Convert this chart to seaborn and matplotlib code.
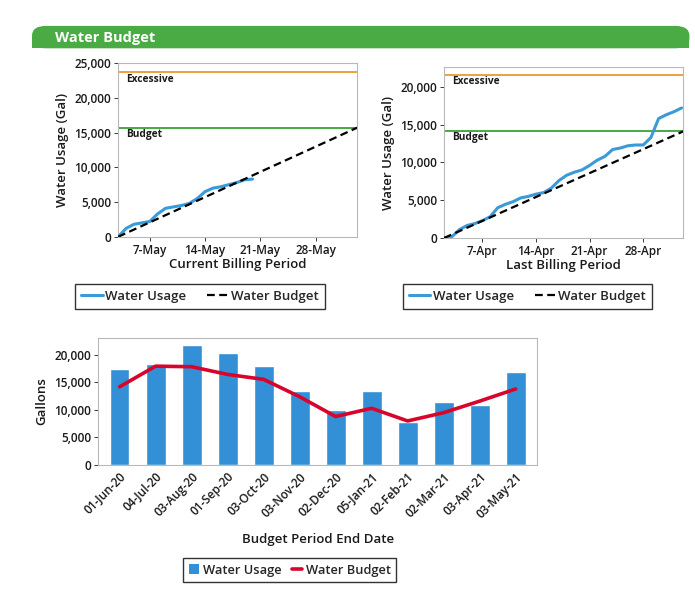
import matplotlib as mpl

mpl.use("Agg")

import matplotlib.pyplot as plt
import matplotlib.dates as mdates
from matplotlib.patches import FancyBboxPatch
from matplotlib.lines import Line2D
from matplotlib.patches import Patch
import seaborn as sns
import numpy as np
import pandas as pd

sns.set_theme(style="white")
plt.rcParams["font.family"] = ["Open Sans", "DejaVu Sans"]

# current billing period (daily cumulative usage)
cur_dates = pd.date_range("2021-05-03", "2021-05-20", freq="D")
cur_usage = [0, 1200, 1800, 2000, 2200, 3300, 4100, 4300, 4500, 4800,
             5500, 6500, 7000, 7200, 7500, 7800, 8200, 8300]
cur_budget_dates = pd.to_datetime(["2021-05-03 00:00", "2021-06-02 06:00"])
cur_budget = [0, 15700]
cur_budget_level = 15700
cur_excessive_level = 23700

# last billing period
last_dates = pd.date_range("2021-04-02", "2021-05-03", freq="D")
last_usage = [0, 150, 1100, 1650, 1900, 2300, 2800, 4000, 4450, 4800,
              5300, 5500, 5800, 6000, 6600, 7600, 8300, 8700, 9000, 9600,
              10300, 10800, 11700, 11900, 12200, 12300, 12300, 13300, 15800,
              16300, 16700, 17200]
last_budget_dates = pd.to_datetime(["2021-04-02 00:00", "2021-05-03 05:00"])
last_budget = [0, 14100]
last_budget_level = 14200
last_excessive_level = 21600

# budget periods
periods = ["01-Jun-20", "04-Jul-20", "03-Aug-20", "01-Sep-20", "03-Oct-20",
           "03-Nov-20", "02-Dec-20", "05-Jan-21", "02-Feb-21", "02-Mar-21",
           "03-Apr-21", "03-May-21"]
period_usage = [17300, 18250, 21700, 20350, 18000, 13350, 10000, 13450,
                7700, 11450, 10850, 16750]
period_budget = [14150, 17900, 17800, 16400, 15500, 12350, 8750, 10250,
                 7950, 9450, 11550, 13750]

BLUE = "#3b9ad8"
BAR = "#3490d6"
RED = "#d9042b"
ORANGE = "#eda13a"
GREEN = "#47a845"
HEADER = "#4aaa44"
FRAME = "#b8b8b8"
TXT = "#1a1a1a"
W = 600  # semibold where available

fig = plt.figure(figsize=(6.95, 5.89), dpi=100)
fig.patch.set_facecolor("white")

# green header bar, rounded top corners
hdr = FancyBboxPatch((0.046, 0.918), 0.946, 0.038,
                     boxstyle="round,pad=0,rounding_size=0.02",
                     transform=fig.transFigure, facecolor=HEADER,
                     edgecolor="none", mutation_aspect=0.85)
fig.patches.append(hdr)
fig.add_artist(plt.Rectangle((0.046, 0.918), 0.946, 0.015,
                             transform=fig.transFigure,
                             facecolor=HEADER, edgecolor="none"))
fig.text(0.079, 0.936, "Water Budget", color="white", fontsize=10.5,
         fontweight="bold", va="center", ha="left")


def style_axes(ax):
    for s in ax.spines.values():
        s.set_color(FRAME)
        s.set_linewidth(0.8)
    ax.tick_params(axis="both", labelsize=8.5, colors=TXT, length=3,
                   width=0.6, direction="out", left=True, bottom=True, pad=2)
    for lab in ax.get_xticklabels() + ax.get_yticklabels():
        lab.set_fontweight(W)
    ax.yaxis.set_major_formatter(mpl.ticker.StrMethodFormatter("{x:,.0f}"))


def period_chart(rect, dates, usage, bdates, budget, blevel, elevel,
                 xlim, ylim, yticks, xlabel, legend_x):
    ax = fig.add_axes(rect)
    sns.lineplot(x=dates, y=usage, ax=ax, color=BLUE, linewidth=2.2, zorder=3)
    sns.lineplot(x=bdates, y=budget, ax=ax, color="black", linewidth=1.6,
                 linestyle=(0, (3.5, 2)), zorder=4)
    ax.axhline(elevel, color=ORANGE, linewidth=1.4, zorder=2)
    ax.axhline(blevel, color=GREEN, linewidth=1.4, zorder=2)
    ax.set_xlim(pd.Timestamp(xlim[0]), pd.Timestamp(xlim[1]))
    ax.set_ylim(*ylim)
    ax.set_yticks(yticks)
    ax.xaxis.set_major_locator(mdates.DayLocator(bymonthday=[7, 14, 21, 28]))
    ax.xaxis.set_major_formatter(mdates.DateFormatter("%-d-%b"))
    ax.text(0.035, elevel - ylim[1] * 0.010, "Excessive",
            transform=ax.get_yaxis_transform(), fontsize=7.3,
            fontweight="bold", va="top", color=TXT)
    ax.text(0.035, blevel - ylim[1] * 0.010, "Budget",
            transform=ax.get_yaxis_transform(), fontsize=7.3,
            fontweight="bold", va="top", color=TXT)
    ax.set_xlabel(xlabel, fontsize=9.5, fontweight=W, color=TXT, labelpad=1)
    ax.set_ylabel("Water Usage (Gal)", fontsize=9.5, fontweight=W,
                  color=TXT, labelpad=4)
    style_axes(ax)
    handles = [Line2D([], [], color=BLUE, linewidth=2.2),
               Line2D([], [], color="black", linewidth=1.6,
                      linestyle=(0, (3.5, 2)))]
    fig.legend(handles, ["Water Usage", "Water Budget"], loc="center",
               bbox_to_anchor=(legend_x, 0.497), ncol=2,
               prop={"size": 9.5, "weight": W},
               frameon=True, fancybox=False, edgecolor="black",
               handlelength=1.6, handletextpad=0.2, columnspacing=1.6,
               borderpad=0.45)
    return ax


ax1 = period_chart([0.170, 0.598, 0.344, 0.295], cur_dates, cur_usage,
                   cur_budget_dates, cur_budget, cur_budget_level,
                   cur_excessive_level, ("2021-05-03 00:00", "2021-06-02 06:00"),
                   (0, 25000), np.arange(0, 25001, 5000),
                   "Current Billing Period", 0.288)
ax2 = period_chart([0.639, 0.596, 0.344, 0.290], last_dates, last_usage,
                   last_budget_dates, last_budget, last_budget_level,
                   last_excessive_level, ("2021-04-02 00:00", "2021-05-03 05:00"),
                   (0, 22600), np.arange(0, 20001, 5000),
                   "Last Billing Period", 0.759)

# budget period chart
ax3 = fig.add_axes([0.141, 0.211, 0.632, 0.215])
df = pd.DataFrame({"period": periods, "usage": period_usage,
                   "budget": period_budget, "pos": np.arange(len(periods))})
sns.barplot(data=df, x="period", y="usage", ax=ax3, color=BAR, width=0.55,
            saturation=1, zorder=2)
sns.lineplot(data=df, x="pos", y="budget", ax=ax3, color=RED, linewidth=2.6,
             zorder=3)
ax3.set_xlim(-0.6, len(periods) - 0.4)
ax3.set_ylim(0, 23000)
ax3.set_yticks(np.arange(0, 20001, 5000))
ax3.set_xticks(np.arange(len(periods)))
ax3.set_xticklabels(periods, rotation=45, ha="right", rotation_mode="anchor")
ax3.set_xlabel("Budget Period End Date", fontsize=9.5, fontweight=W,
               color=TXT, labelpad=9)
ax3.set_ylabel("Gallons", fontsize=9.5, fontweight=W, color=TXT, labelpad=4)
style_axes(ax3)
ax3.tick_params(axis="x", length=0, labelsize=8.5, pad=4)
handles = [Patch(facecolor=BAR, edgecolor="none"),
           Line2D([], [], color=RED, linewidth=2.6)]
fig.legend(handles, ["Water Usage", "Water Budget"], loc="center",
           bbox_to_anchor=(0.417, 0.032), ncol=2,
           prop={"size": 9.3, "weight": W}, frameon=True,
           fancybox=False, edgecolor="black", handlelength=0.8,
           handleheight=0.8, handletextpad=0.3, columnspacing=0.8,
           borderpad=0.4)

fig.savefig("out.png", dpi=100)
